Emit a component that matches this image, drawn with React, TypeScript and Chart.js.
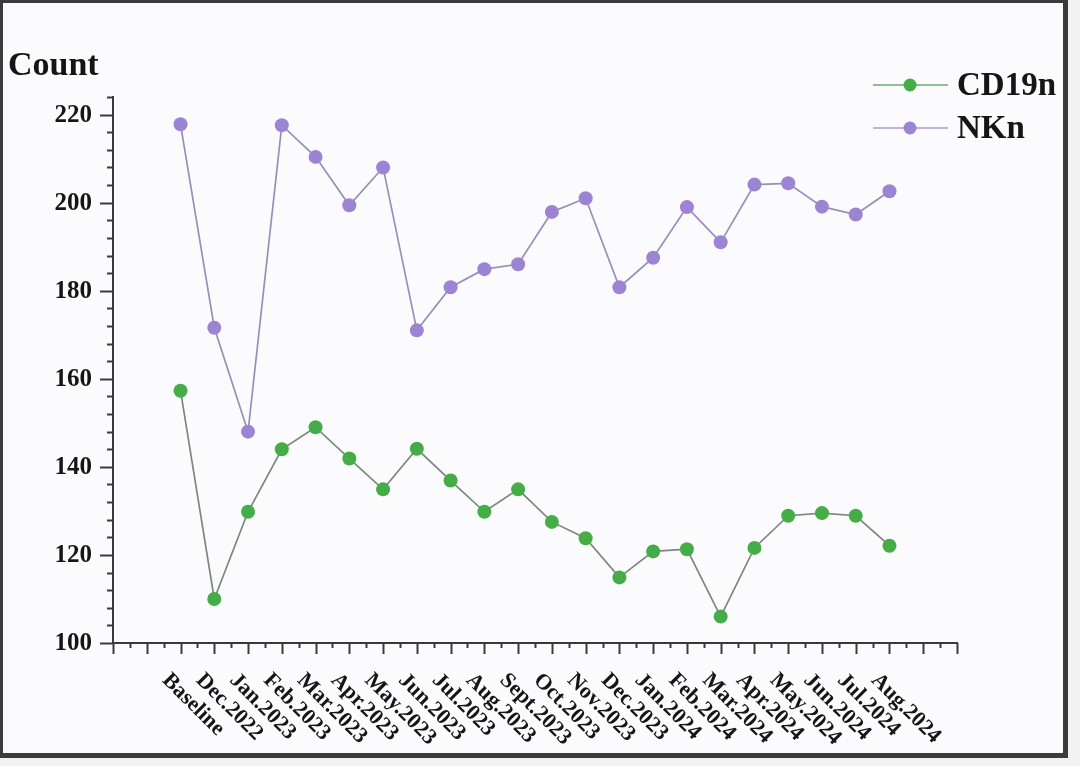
import { useEffect, useRef } from "react";
import { Chart, registerables, type Plugin } from "chart.js";

Chart.register(...registerables);

const CATEGORIES = [
  "Baseline", "Dec.2022", "Jan.2023", "Feb.2023", "Mar.2023", "Apr.2023",
  "May.2023", "Jun.2023", "Jul.2023", "Aug.2023", "Sept.2023", "Oct.2023",
  "Nov.2023", "Dec.2023", "Jan.2024", "Feb.2024", "Mar.2024", "Apr.2024",
  "May.2024", "Jun.2024", "Jul.2024", "Aug.2024",
];

const CD19N = [
  157.3, 110, 129.8, 144, 149, 141.9, 134.9, 144.1, 136.9, 129.8, 134.9,
  127.5, 123.8, 114.9, 120.8, 121.3, 106, 121.6, 128.9, 129.5, 128.9, 122.1,
];

const NKN = [
  217.8, 171.6, 148, 217.6, 210.4, 199.4, 208, 171, 180.8, 184.9, 186,
  197.9, 201, 180.8, 187.5, 199, 191, 204.1, 204.4, 199.1, 197.3, 202.6,
];

const Y_TICKS = [100, 120, 140, 160, 180, 200, 220];

const SERIES = [
  { label: "CD19n", values: CD19N, point: "#45ad47", line: "#7b887b", legendLine: "#6aaa6c" },
  { label: "NKn", values: NKN, point: "#9c84d4", line: "#968fba", legendLine: "#a99bd2" },
];

const AXIS_COLOR = "#3a3a3a";
const TEXT_COLOR = "#151515";
const SERIF = '"Liberation Serif", "Times New Roman", serif';

// axis ticks, rotated labels, title and legend drawn on top of the chart
const decorPlugin: Plugin<"line"> = {
  id: "decor",
  afterDraw(chart) {
    const { ctx, chartArea, scales } = chart;
    const x = scales.x;
    const y = scales.y;
    ctx.save();
    ctx.strokeStyle = AXIS_COLOR;
    ctx.lineWidth = 2;

    // y ticks: major every 20, minor every 4
    for (let v = 100; v <= 224; v += 4) {
      const py = Math.round(y.getPixelForValue(v)) + 0.5;
      const len = v % 20 === 0 ? 13 : 6;
      ctx.beginPath();
      ctx.moveTo(chartArea.left, py);
      ctx.lineTo(chartArea.left - len, py);
      ctx.stroke();
    }
    // x ticks: major at each category slot, minor between
    for (let i = -4; i <= 46; i++) {
      const v = i / 2;
      const px = Math.round(x.getPixelForValue(v)) + 0.5;
      const len = i % 2 === 0 ? 11 : 5;
      ctx.beginPath();
      ctx.moveTo(px, chartArea.bottom);
      ctx.lineTo(px, chartArea.bottom + len);
      ctx.stroke();
    }

    ctx.fillStyle = TEXT_COLOR;
    ctx.font = `bold 25px ${SERIF}`;
    ctx.textAlign = "right";
    ctx.textBaseline = "middle";
    Y_TICKS.forEach((t) => {
      ctx.fillText(String(t), chartArea.left - 21, y.getPixelForValue(t) + 1);
    });

    ctx.font = `bold 22px ${SERIF}`;
    ctx.textAlign = "left";
    CATEGORIES.forEach((c, i) => {
      const px = x.getPixelForValue(i);
      ctx.save();
      ctx.translate(px - 15, chartArea.bottom + 34);
      ctx.rotate(Math.PI / 4);
      ctx.fillText(c, 0, 0);
      ctx.restore();
    });

    // axis title
    ctx.font = `bold 34px ${SERIF}`;
    ctx.textBaseline = "alphabetic";
    ctx.fillText("Count", 8, 75);

    // legend
    ctx.font = `bold 33px ${SERIF}`;
    ctx.textBaseline = "middle";
    SERIES.forEach((s, i) => {
      const ly = 85 + i * 43;
      ctx.strokeStyle = s.legendLine;
      ctx.lineWidth = 1.5;
      ctx.beginPath();
      ctx.moveTo(873, ly);
      ctx.lineTo(948, ly);
      ctx.stroke();
      ctx.fillStyle = s.point;
      ctx.beginPath();
      ctx.arc(910, ly, 6.5, 0, Math.PI * 2);
      ctx.fill();
      ctx.fillStyle = TEXT_COLOR;
      ctx.fillText(s.label, 957, ly + 1);
    });
    ctx.restore();
  },
};

export default function App() {
  const canvasRef = useRef<HTMLCanvasElement>(null);
  const chartRef = useRef<Chart<"line"> | null>(null);

  useEffect(() => {
    if (!canvasRef.current) return;
    const ctx = canvasRef.current.getContext("2d");
    if (!ctx) return;

    chartRef.current?.destroy();
    chartRef.current = new Chart(ctx, {
      type: "line",
      data: {
        datasets: SERIES.map((s) => ({
          label: s.label,
          data: s.values.map((v, i) => ({ x: i, y: v })),
          borderColor: s.line,
          borderWidth: 1.7,
          backgroundColor: s.point,
          pointBackgroundColor: s.point,
          pointBorderColor: s.point,
          pointBorderWidth: 0,
          pointRadius: 7,
          tension: 0,
        })),
      },
      options: {
        responsive: true,
        maintainAspectRatio: false,
        animation: false,
        layout: { padding: { left: 113, right: 123, top: 97, bottom: 123 } },
        plugins: { legend: { display: false }, tooltip: { enabled: false } },
        scales: {
          x: {
            type: "linear",
            min: -2,
            max: 23,
            ticks: { display: false },
            grid: { display: false, drawTicks: false },
            border: { display: true, color: AXIS_COLOR, width: 2 },
          },
          y: {
            min: 100,
            max: 224,
            ticks: { display: false },
            grid: { display: false, drawTicks: false },
            border: { display: true, color: AXIS_COLOR, width: 2 },
          },
        },
      },
      plugins: [decorPlugin],
    });

    return () => {
      chartRef.current?.destroy();
      chartRef.current = null;
    };
  }, []);

  return (
    <div style={{ position: "fixed", left: 0, top: 0, width: 1080, height: 766, background: "#f2f2f3" }}>
      <div
        style={{
          position: "absolute",
          left: 0,
          top: 0,
          width: 1068,
          height: 758,
          boxSizing: "border-box",
          borderStyle: "solid",
          borderColor: "#3b3b3d",
          borderWidth: "3px 5px 5px 3px",
          background: "#fbfbfd",
        }}
      />
      <div style={{ position: "absolute", left: 0, top: 0, width: 1080, height: 766 }}>
        <canvas ref={canvasRef}></canvas>
      </div>
    </div>
  );
}
